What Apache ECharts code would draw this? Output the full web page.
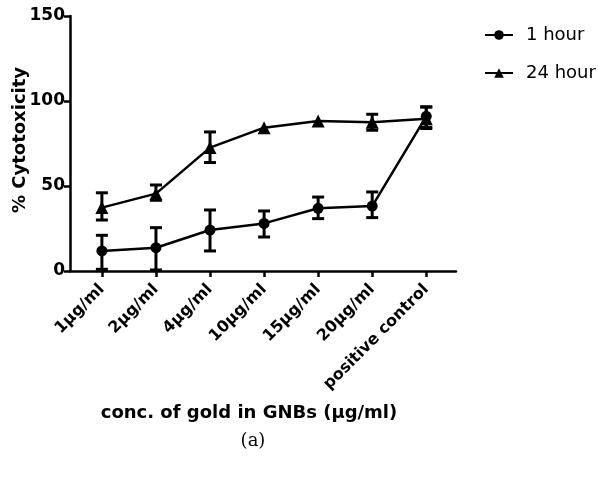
<!DOCTYPE html>
<html>
<head>
<meta charset="utf-8">
<script src="https://cdn.jsdelivr.net/npm/echarts@6/dist/echarts.min.js"></script>
<style>
  html, body { margin: 0; padding: 0; background: #fff; }
  #chart { width: 598px; height: 482px; }
</style>
</head>
<body>
<div id="chart"></div>
<script>
  // categories and values
  var categories = ['1µg/ml', '2µg/ml', '4µg/ml', '10µg/ml', '15µg/ml', '20µg/ml', 'positive control']
  var yTicks = [0, 50, 100, 150]

  var hour1Mean = [11.8, 13.7, 24.1, 28.0, 36.9, 38.2, 91.0]
  var hour1Low = [1.0, 0.6, 11.8, 20.0, 30.8, 31.4, 84.5]
  var hour1High = [21.0, 25.5, 35.9, 35.3, 43.5, 46.5, 96.5]

  var hour24Mean = [37.3, 45.5, 72.6, 84.3, 88.2, 87.5, 89.6]
  var hour24Low = [30.0, 41.6, 63.8, 84.3, 88.2, 82.8, 83.8]
  var hour24High = [46.0, 50.6, 81.8, 84.3, 88.2, 92.2, 96.5]

  var font = 'DejaVu Sans'
  var catIndex = categories.map(function (c, i) { return i })

  function pairs(vals) {
    return vals.map(function (v, i) { return [i, v] })
  }
  function bars(lo, hi) {
    return lo.map(function (v, i) { return [i, v, hi[i]] })
  }

  // error bars with caps
  function errorBar(params, api) {
    var x = api.value(0)
    var lo = api.value(1)
    var hi = api.value(2)
    if (hi - lo < 1) return null
    var top = api.coord([x, hi])
    var bot = api.coord([x, lo])
    var w = 6
    var style = { stroke: '#000', lineWidth: 3 }
    return {
      type: 'group',
      children: [
        { type: 'line', shape: { x1: top[0], y1: top[1], x2: bot[0], y2: bot[1] }, style: style },
        { type: 'line', shape: { x1: top[0] - w, y1: top[1], x2: top[0] + w, y2: top[1] }, style: style },
        { type: 'line', shape: { x1: bot[0] - w, y1: bot[1], x2: bot[0] + w, y2: bot[1] }, style: style }
      ]
    }
  }

  var myChart = echarts.init(document.getElementById('chart'))
  var option = {
    backgroundColor: '#fff',
    animation: false,
    grid: { left: 70, right: 142, top: 16, bottom: 211 },
    legend: {
      orient: 'vertical',
      left: 479,
      top: 21,
      itemWidth: 28,
      itemHeight: 12,
      itemGap: 20,
      textStyle: { fontFamily: font, fontSize: 18, color: '#000', padding: [0, 0, 0, 8] },
      data: ['1 hour', '24 hour']
    },
    xAxis: {
      type: 'value',
      min: -0.59,
      max: 6.55,
      axisLine: { show: true, onZero: false, lineStyle: { color: '#000', width: 2.5 } },
      axisTick: { show: true, length: 6, lineStyle: { color: '#000', width: 2.5 }, customValues: catIndex },
      splitLine: { show: false },
      axisLabel: {
        customValues: catIndex,
        rotate: 45,
        margin: 16,
        color: '#000',
        fontFamily: font,
        fontWeight: 'bold',
        fontSize: 16,
        formatter: function (v) { return categories[Math.round(v)] }
      }
    },
    yAxis: {
      type: 'value',
      min: yTicks[0],
      max: yTicks[yTicks.length - 1],
      interval: 50,
      axisLine: { show: true, onZero: false, lineStyle: { color: '#000', width: 2.5 } },
      axisTick: { show: true, length: 6, lineStyle: { color: '#000', width: 2.5 } },
      splitLine: { show: false },
      axisLabel: { color: '#000', fontFamily: font, fontWeight: 'bold', fontSize: 17, margin: 5 }
    },
    graphic: [
      {
        type: 'text', x: 20, y: 140, rotation: Math.PI / 2,
        style: { text: '% Cytotoxicity', fill: '#000', font: 'bold 18px "DejaVu Sans"', align: 'center', verticalAlign: 'middle' }
      },
      {
        type: 'text', x: 249, y: 413,
        style: { text: 'conc. of gold in GNBs (µg/ml)', fill: '#000', font: 'bold 18px "DejaVu Sans"', align: 'center', verticalAlign: 'middle' }
      },
      {
        type: 'text', x: 253, y: 441,
        style: { text: '(a)', fill: '#000', font: '18px "DejaVu Serif"', align: 'center', verticalAlign: 'middle' }
      }
    ],
    series: [
      {
        name: '1 hour',
        type: 'line',
        symbol: 'circle',
        symbolSize: 11,
        lineStyle: { color: '#000', width: 2.5 },
        itemStyle: { color: '#000' },
        data: pairs(hour1Mean),
        z: 3
      },
      {
        name: '24 hour',
        type: 'line',
        symbol: 'triangle',
        symbolSize: 13,
        lineStyle: { color: '#000', width: 2.5 },
        itemStyle: { color: '#000' },
        data: pairs(hour24Mean),
        z: 3
      },
      {
        name: 'err1',
        type: 'custom',
        renderItem: errorBar,
        encode: { x: 0, y: [1, 2] },
        clip: false,
        data: bars(hour1Low, hour1High),
        z: 2
      },
      {
        name: 'err24',
        type: 'custom',
        renderItem: errorBar,
        encode: { x: 0, y: [1, 2] },
        clip: false,
        data: bars(hour24Low, hour24High),
        z: 2
      }
    ]
  }
  myChart.setOption(option)
</script>
</body>
</html>
